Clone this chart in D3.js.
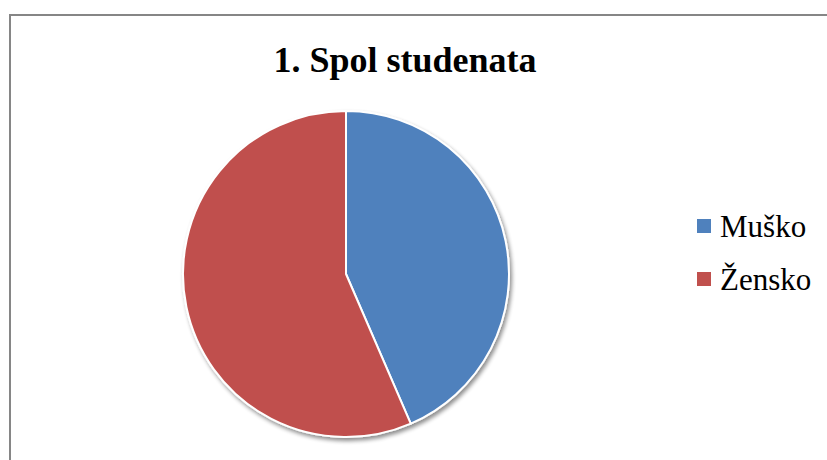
<!DOCTYPE html>
<html><head><meta charset="utf-8">
<script src="https://cdn.jsdelivr.net/npm/d3@7"></script>
<style>html,body{margin:0;padding:0;background:#fff;}svg{display:block;}
text{font-family:'Liberation Serif','Times New Roman',serif;}</style>
</head><body>
<svg id="chart" width="827" height="460"></svg>
<script>
const title = "1. Spol studenata";
const categories = ["Muško", "Žensko"];
const values = [43.5, 56.5];
const colors = ["#4F81BD", "#C0504D"];

const svg = d3.select("#chart");
const W = 827, H = 460;
svg.append("rect").attr("width", W).attr("height", H).attr("fill", "#fff");
svg.append("rect").attr("x", 10).attr("y", 15).attr("width", W + 20).attr("height", H + 20)
  .attr("fill", "none").attr("stroke", "#868686").attr("stroke-width", 2);

const defs = svg.append("defs");
const f = defs.append("filter").attr("id", "sh").attr("x", "-20%").attr("y", "-20%").attr("width", "140%").attr("height", "140%");
f.append("feGaussianBlur").attr("in", "SourceAlpha").attr("stdDeviation", 2);
f.append("feOffset").attr("dx", 1.5).attr("dy", 2.5).attr("result", "o");
f.append("feComponentTransfer").append("feFuncA").attr("type", "linear").attr("slope", 0.45);
const m = f.append("feMerge");
m.append("feMergeNode");
m.append("feMergeNode").attr("in", "SourceGraphic");

svg.append("text").attr("x", 405).attr("y", 72).attr("text-anchor", "middle")
  .style("font-weight", "bold")
  .style("font-size", "36px").attr("fill", "#000").text(title);

const cx = 346, cy = 274, r = 163;
const pie = d3.pie().sort(null).value(d => d)(values);
const arc = d3.arc().innerRadius(0).outerRadius(r);
const g = svg.append("g").attr("transform", `translate(${cx},${cy})`).attr("filter", "url(#sh)");
g.selectAll("path").data(pie).join("path")
  .attr("d", arc).attr("fill", (d, i) => colors[i])
  .attr("stroke", "#fff").attr("stroke-width", 2).attr("stroke-linejoin", "round");

const lg = svg.append("g");
const ys = d3.scalePoint().domain(categories).range([237, 290]);
categories.forEach((c, i) => {
  lg.append("rect").attr("x", 697).attr("y", ys(c) - 18).attr("width", 14).attr("height", 14).attr("fill", colors[i]);
  lg.append("text").attr("x", 720).attr("y", ys(c))
    .style("font-size", "31px")
    .attr("fill", "#000").text(c);
});
</script>
</body></html>
